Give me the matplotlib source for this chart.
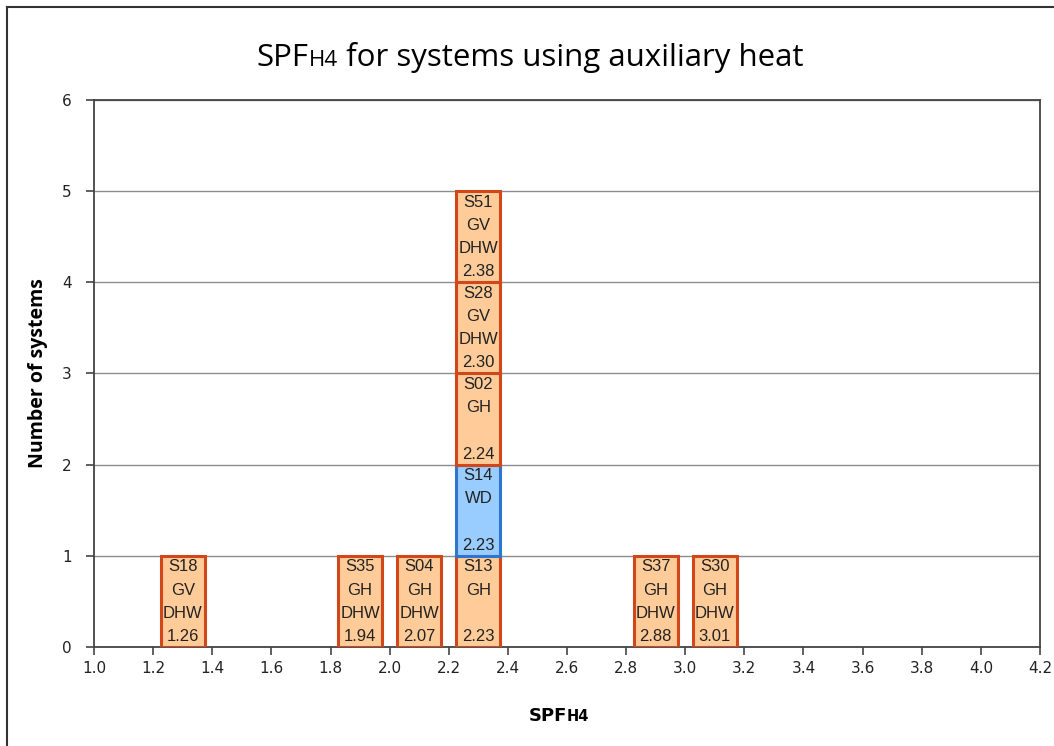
import numpy as np
import matplotlib
matplotlib.use("Agg")
import matplotlib.pyplot as plt
from matplotlib.patches import Rectangle
from matplotlib.lines import Line2D

## Systems in stacking order (bottom to top inside each bin)
names = ["S18", "S35", "S04", "S13", "S14", "S02", "S28", "S51", "S37", "S30"]
types = ["GV", "GH", "GH", "GH", "WD", "GH", "GV", "GV", "GH", "GH"]
dhw = [True, True, True, False, False, False, True, True, True, True]
spf = [1.26, 1.94, 2.07, 2.23, 2.23, 2.24, 2.30, 2.38, 2.88, 3.01]
aux_kind = ["o", "o", "o", "o", "b", "o", "o", "o", "o", "o"]

bin_width = 0.2
box_width = 0.15
x_ticks = np.arange(1.0, 4.21, 0.2)
y_ticks = np.arange(0, 7, 1)

face = {"o": "#FFCC99", "b": "#99CCFF"}
edge = {"o": "#D2471A", "b": "#2E75D0"}

fig = plt.figure(figsize=(10.54, 7.46), dpi=100)
ax = fig.add_axes([0.0892, 0.1327, 0.8975, 0.7333])
ax.set_xlim(1.0, 4.2)
ax.set_ylim(0, 6)
ax.set_xticks(x_ticks)
ax.set_xticklabels(["%.1f" % v for v in x_ticks])
ax.set_yticks(y_ticks)
ax.yaxis.grid(True, color="#8c8c8c", lw=1)
ax.set_axisbelow(True)
for s in ax.spines.values():
    s.set_color("#444444")
    s.set_linewidth(1.3)
ax.tick_params(axis="both", colors="#444444", labelcolor="#222222",
               labelsize=11, length=6, width=1.2, direction="out")
for lab in ax.get_xticklabels() + ax.get_yticklabels():
    lab.set_family("DejaVu Sans")
ax.tick_params(axis="x", pad=4)
ax.tick_params(axis="y", pad=10)

## stack the boxes per bin
counts = {}
for n, t, d, v, k in zip(names, types, dhw, spf, aux_kind):
    b = int(np.floor((v + 1e-9) / bin_width))
    xc = (b + 0.5) * bin_width
    y0 = counts.get(b, 0)
    counts[b] = y0 + 1
    ax.add_patch(Rectangle((xc - box_width / 2, y0), box_width, 1,
                           facecolor=face[k], edgecolor=edge[k], lw=2.2, zorder=3))
    lines = [n, t, "DHW" if d else "", "%.2f" % v]
    for i, txt in enumerate(lines):
        ax.text(xc, y0 + 1 - (0.12 + 0.255 * i), txt, ha="center", va="center",
                fontsize=12, color="#222222", zorder=4, family="Liberation Sans")

## axis labels
ax.set_ylabel("Number of systems", fontsize=14, fontweight="bold",
              family="Open Sans", labelpad=10)
ax.text(0.5, -0.135, "SPF", transform=ax.transAxes, ha="right", va="baseline",
        fontsize=13, fontweight="bold", family="DejaVu Sans")
ax.text(0.5, -0.135, "H4", transform=ax.transAxes, ha="left", va="baseline",
        fontsize=10.5, fontweight="bold", family="DejaVu Sans")

## title in two pieces, the H4 smaller
fig.canvas.draw()
r = fig.canvas.get_renderer()
t1 = fig.text(0, 0.912, "SPF", fontsize=22.5, family="Open Sans", va="baseline")
t2 = fig.text(0, 0.912, "H4", fontsize=16, family="Open Sans", va="baseline")
t3 = fig.text(0, 0.912, " for systems using auxiliary heat", fontsize=22.5,
              family="Open Sans", va="baseline")
w1 = t1.get_window_extent(r).width
w2 = t2.get_window_extent(r).width
w3 = t3.get_window_extent(r).width
W = fig.bbox.width
x0 = (530 - (w1 + w2 + w3) / 2) / W
t1.set_x(x0)
t2.set_x(x0 + w1 / W)
t3.set_x(x0 + (w1 + w2) / W)

## outer frame
fig.add_artist(Line2D([7 / 1054, 7 / 1054], [0, 1 - 7 / 746], color="#333333", lw=1.5))
fig.add_artist(Line2D([7 / 1054, 1], [1 - 7 / 746, 1 - 7 / 746], color="#333333", lw=1.5))

fig.savefig("out.png", dpi=100, facecolor="white")
